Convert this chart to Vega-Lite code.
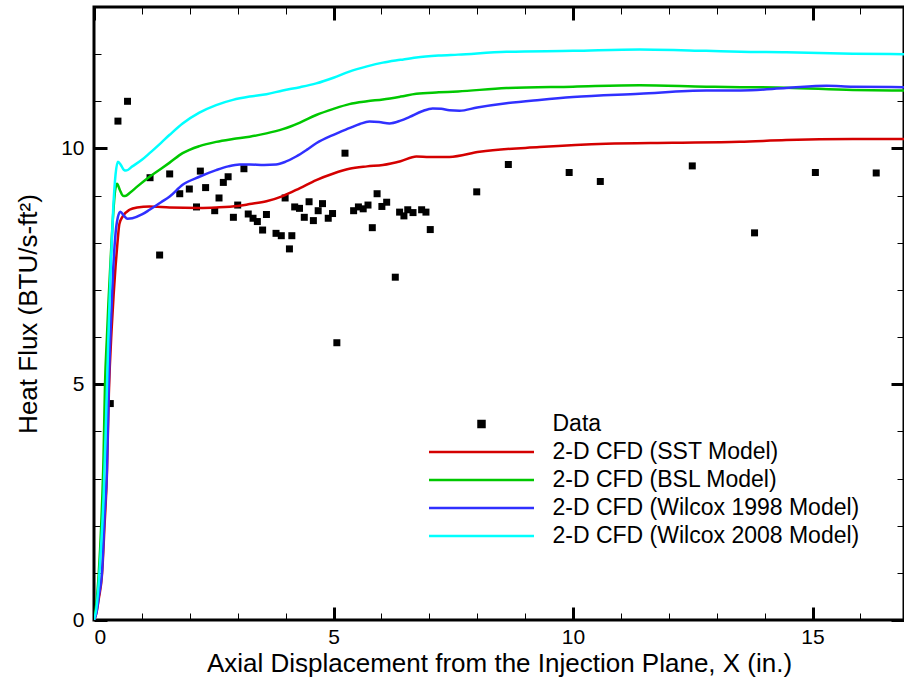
{
  "$schema": "https://vega.github.io/schema/vega-lite/v6.json",
  "width": 810,
  "height": 613,
  "autosize": {"type": "none"},
  "padding": {"left": 94, "top": 7, "right": 0, "bottom": 61},
  "background": "white",
  "config": {
    "view": {"stroke": "black", "strokeWidth": 3},
    "axis": {"labelFont": "Liberation Sans", "titleFont": "Liberation Sans", "labelColor": "black", "titleColor": "black", "tickColor": "black", "grid": false, "domain": false, "titleFontWeight": "normal", "labelFontSize": 21, "titleFontSize": 26},
    "legend": {"title": null, "orient": "none", "legendX": 333.5, "legendY": 403, "padding": 0, "clipHeight": 28, "rowPadding": 0,
      "labelFont": "Liberation Sans", "labelFontSize": 23, "labelColor": "black", "labelOffset": 17, "labelLimit": 0,
      "symbolSize": 11025, "symbolStrokeWidth": 2.5, "symbolType": "stroke"}
  },
  "data": {"values": [
    {"s":"Data","x":0.34,"y":4.59},{"s":"Data","x":0.50,"y":10.58},{"s":"Data","x":0.70,"y":11.00},{"s":"Data","x":1.17,"y":9.38},
    {"s":"Data","x":1.37,"y":7.74},{"s":"Data","x":1.58,"y":9.46},{"s":"Data","x":1.79,"y":9.04},{"s":"Data","x":1.99,"y":9.14},
    {"s":"Data","x":2.14,"y":8.76},{"s":"Data","x":2.22,"y":9.52},{"s":"Data","x":2.33,"y":9.17},{"s":"Data","x":2.52,"y":8.68},
    {"s":"Data","x":2.61,"y":8.95},{"s":"Data","x":2.70,"y":9.28},{"s":"Data","x":2.80,"y":9.40},{"s":"Data","x":2.91,"y":8.54},
    {"s":"Data","x":3.00,"y":8.80},{"s":"Data","x":3.13,"y":9.57},{"s":"Data","x":3.22,"y":8.61},{"s":"Data","x":3.32,"y":8.52},
    {"s":"Data","x":3.41,"y":8.45},{"s":"Data","x":3.52,"y":8.27},{"s":"Data","x":3.60,"y":8.60},{"s":"Data","x":3.80,"y":8.20},
    {"s":"Data","x":3.91,"y":8.15},{"s":"Data","x":3.99,"y":8.95},{"s":"Data","x":4.08,"y":7.87},{"s":"Data","x":4.13,"y":8.15},
    {"s":"Data","x":4.19,"y":8.76},{"s":"Data","x":4.29,"y":8.73},{"s":"Data","x":4.39,"y":8.54},{"s":"Data","x":4.49,"y":8.87},
    {"s":"Data","x":4.58,"y":8.47},{"s":"Data","x":4.68,"y":8.68},{"s":"Data","x":4.77,"y":8.83},{"s":"Data","x":4.89,"y":8.52},
    {"s":"Data","x":4.98,"y":8.62},{"s":"Data","x":5.07,"y":5.88},{"s":"Data","x":5.24,"y":9.90},{"s":"Data","x":5.42,"y":8.68},
    {"s":"Data","x":5.52,"y":8.76},{"s":"Data","x":5.62,"y":8.72},{"s":"Data","x":5.72,"y":8.80},{"s":"Data","x":5.81,"y":8.32},
    {"s":"Data","x":5.91,"y":9.04},{"s":"Data","x":6.01,"y":8.77},{"s":"Data","x":6.11,"y":8.86},{"s":"Data","x":6.29,"y":7.27},
    {"s":"Data","x":6.38,"y":8.65},{"s":"Data","x":6.47,"y":8.57},{"s":"Data","x":6.55,"y":8.70},{"s":"Data","x":6.66,"y":8.64},
    {"s":"Data","x":6.84,"y":8.70},{"s":"Data","x":6.93,"y":8.65},{"s":"Data","x":7.02,"y":8.28},{"s":"Data","x":7.99,"y":9.08},
    {"s":"Data","x":8.65,"y":9.66},{"s":"Data","x":9.92,"y":9.49},{"s":"Data","x":10.57,"y":9.30},{"s":"Data","x":12.49,"y":9.63},
    {"s":"Data","x":13.79,"y":8.21},{"s":"Data","x":15.06,"y":9.49},{"s":"Data","x":16.33,"y":9.48},

    {"s":"2-D CFD (SST Model)","x":0,"y":0},{"s":"2-D CFD (SST Model)","x":0.05,"y":0.15},{"s":"2-D CFD (SST Model)","x":0.1,"y":0.45},
    {"s":"2-D CFD (SST Model)","x":0.17,"y":1.0},{"s":"2-D CFD (SST Model)","x":0.22,"y":2.0},{"s":"2-D CFD (SST Model)","x":0.27,"y":3.1},
    {"s":"2-D CFD (SST Model)","x":0.31,"y":4.8},{"s":"2-D CFD (SST Model)","x":0.37,"y":6.2},{"s":"2-D CFD (SST Model)","x":0.41,"y":6.9},
    {"s":"2-D CFD (SST Model)","x":0.45,"y":7.5},{"s":"2-D CFD (SST Model)","x":0.49,"y":8.0},{"s":"2-D CFD (SST Model)","x":0.53,"y":8.4},
    {"s":"2-D CFD (SST Model)","x":0.6,"y":8.56},{"s":"2-D CFD (SST Model)","x":0.74,"y":8.70},{"s":"2-D CFD (SST Model)","x":0.9,"y":8.75},
    {"s":"2-D CFD (SST Model)","x":1.16,"y":8.77},{"s":"2-D CFD (SST Model)","x":1.58,"y":8.75},{"s":"2-D CFD (SST Model)","x":2.2,"y":8.74},
    {"s":"2-D CFD (SST Model)","x":2.55,"y":8.75},{"s":"2-D CFD (SST Model)","x":3.0,"y":8.78},{"s":"2-D CFD (SST Model)","x":3.25,"y":8.82},
    {"s":"2-D CFD (SST Model)","x":3.6,"y":8.88},{"s":"2-D CFD (SST Model)","x":3.94,"y":8.99},{"s":"2-D CFD (SST Model)","x":4.3,"y":9.16},
    {"s":"2-D CFD (SST Model)","x":4.64,"y":9.33},{"s":"2-D CFD (SST Model)","x":5.0,"y":9.47},{"s":"2-D CFD (SST Model)","x":5.33,"y":9.57},
    {"s":"2-D CFD (SST Model)","x":5.7,"y":9.62},{"s":"2-D CFD (SST Model)","x":6.03,"y":9.65},{"s":"2-D CFD (SST Model)","x":6.4,"y":9.73},
    {"s":"2-D CFD (SST Model)","x":6.73,"y":9.83},{"s":"2-D CFD (SST Model)","x":7.0,"y":9.82},{"s":"2-D CFD (SST Model)","x":7.42,"y":9.82},
    {"s":"2-D CFD (SST Model)","x":8.05,"y":9.93},{"s":"2-D CFD (SST Model)","x":9.3,"y":10.03},{"s":"2-D CFD (SST Model)","x":10.69,"y":10.10},
    {"s":"2-D CFD (SST Model)","x":12.08,"y":10.12},{"s":"2-D CFD (SST Model)","x":13.48,"y":10.14},{"s":"2-D CFD (SST Model)","x":14.45,"y":10.18},
    {"s":"2-D CFD (SST Model)","x":15.84,"y":10.20},{"s":"2-D CFD (SST Model)","x":17,"y":10.20},

    {"s":"2-D CFD (BSL Model)","x":0,"y":0},{"s":"2-D CFD (BSL Model)","x":0.05,"y":0.35},{"s":"2-D CFD (BSL Model)","x":0.1,"y":1.0},
    {"s":"2-D CFD (BSL Model)","x":0.15,"y":2.0},{"s":"2-D CFD (BSL Model)","x":0.2,"y":3.5},{"s":"2-D CFD (BSL Model)","x":0.23,"y":5.0},
    {"s":"2-D CFD (BSL Model)","x":0.27,"y":6.0},{"s":"2-D CFD (BSL Model)","x":0.3,"y":6.7},{"s":"2-D CFD (BSL Model)","x":0.35,"y":7.7},
    {"s":"2-D CFD (BSL Model)","x":0.4,"y":8.6},{"s":"2-D CFD (BSL Model)","x":0.44,"y":9.1},{"s":"2-D CFD (BSL Model)","x":0.48,"y":9.25},
    {"s":"2-D CFD (BSL Model)","x":0.54,"y":9.12},{"s":"2-D CFD (BSL Model)","x":0.6,"y":9.0},{"s":"2-D CFD (BSL Model)","x":0.65,"y":8.99},
    {"s":"2-D CFD (BSL Model)","x":0.75,"y":9.06},{"s":"2-D CFD (BSL Model)","x":0.9,"y":9.19},{"s":"2-D CFD (BSL Model)","x":1.16,"y":9.40},
    {"s":"2-D CFD (BSL Model)","x":1.4,"y":9.57},{"s":"2-D CFD (BSL Model)","x":1.58,"y":9.70},{"s":"2-D CFD (BSL Model)","x":1.85,"y":9.90},
    {"s":"2-D CFD (BSL Model)","x":2.2,"y":10.05},{"s":"2-D CFD (BSL Model)","x":2.55,"y":10.14},{"s":"2-D CFD (BSL Model)","x":2.9,"y":10.20},
    {"s":"2-D CFD (BSL Model)","x":3.25,"y":10.25},{"s":"2-D CFD (BSL Model)","x":3.6,"y":10.32},{"s":"2-D CFD (BSL Model)","x":3.94,"y":10.41},
    {"s":"2-D CFD (BSL Model)","x":4.3,"y":10.55},{"s":"2-D CFD (BSL Model)","x":4.64,"y":10.71},{"s":"2-D CFD (BSL Model)","x":5.0,"y":10.84},
    {"s":"2-D CFD (BSL Model)","x":5.33,"y":10.94},{"s":"2-D CFD (BSL Model)","x":5.7,"y":11.00},{"s":"2-D CFD (BSL Model)","x":6.03,"y":11.04},
    {"s":"2-D CFD (BSL Model)","x":6.4,"y":11.10},{"s":"2-D CFD (BSL Model)","x":6.73,"y":11.16},{"s":"2-D CFD (BSL Model)","x":7.2,"y":11.19},
    {"s":"2-D CFD (BSL Model)","x":7.6,"y":11.21},{"s":"2-D CFD (BSL Model)","x":8.61,"y":11.28},{"s":"2-D CFD (BSL Model)","x":10,"y":11.31},
    {"s":"2-D CFD (BSL Model)","x":11.39,"y":11.34},{"s":"2-D CFD (BSL Model)","x":12.78,"y":11.31},{"s":"2-D CFD (BSL Model)","x":13.5,"y":11.30},
    {"s":"2-D CFD (BSL Model)","x":14.45,"y":11.29},{"s":"2-D CFD (BSL Model)","x":15.84,"y":11.24},{"s":"2-D CFD (BSL Model)","x":17,"y":11.23},

    {"s":"2-D CFD (Wilcox 1998 Model)","x":0,"y":0},{"s":"2-D CFD (Wilcox 1998 Model)","x":0.05,"y":0.15},{"s":"2-D CFD (Wilcox 1998 Model)","x":0.1,"y":0.5},
    {"s":"2-D CFD (Wilcox 1998 Model)","x":0.17,"y":1.06},{"s":"2-D CFD (Wilcox 1998 Model)","x":0.22,"y":2.2},{"s":"2-D CFD (Wilcox 1998 Model)","x":0.27,"y":3.18},
    {"s":"2-D CFD (Wilcox 1998 Model)","x":0.31,"y":5.03},{"s":"2-D CFD (Wilcox 1998 Model)","x":0.37,"y":6.72},{"s":"2-D CFD (Wilcox 1998 Model)","x":0.40,"y":7.42},
    {"s":"2-D CFD (Wilcox 1998 Model)","x":0.45,"y":8.2},{"s":"2-D CFD (Wilcox 1998 Model)","x":0.5,"y":8.55},{"s":"2-D CFD (Wilcox 1998 Model)","x":0.55,"y":8.66},
    {"s":"2-D CFD (Wilcox 1998 Model)","x":0.62,"y":8.58},{"s":"2-D CFD (Wilcox 1998 Model)","x":0.7,"y":8.51},{"s":"2-D CFD (Wilcox 1998 Model)","x":0.8,"y":8.52},
    {"s":"2-D CFD (Wilcox 1998 Model)","x":1.0,"y":8.6},{"s":"2-D CFD (Wilcox 1998 Model)","x":1.16,"y":8.70},{"s":"2-D CFD (Wilcox 1998 Model)","x":1.4,"y":8.86},
    {"s":"2-D CFD (Wilcox 1998 Model)","x":1.58,"y":8.98},{"s":"2-D CFD (Wilcox 1998 Model)","x":1.85,"y":9.23},{"s":"2-D CFD (Wilcox 1998 Model)","x":2.2,"y":9.40},
    {"s":"2-D CFD (Wilcox 1998 Model)","x":2.55,"y":9.54},{"s":"2-D CFD (Wilcox 1998 Model)","x":2.8,"y":9.62},{"s":"2-D CFD (Wilcox 1998 Model)","x":3.04,"y":9.66},
    {"s":"2-D CFD (Wilcox 1998 Model)","x":3.25,"y":9.66},{"s":"2-D CFD (Wilcox 1998 Model)","x":3.55,"y":9.65},{"s":"2-D CFD (Wilcox 1998 Model)","x":3.8,"y":9.66},
    {"s":"2-D CFD (Wilcox 1998 Model)","x":4.0,"y":9.72},{"s":"2-D CFD (Wilcox 1998 Model)","x":4.22,"y":9.83},{"s":"2-D CFD (Wilcox 1998 Model)","x":4.44,"y":9.97},
    {"s":"2-D CFD (Wilcox 1998 Model)","x":4.64,"y":10.11},{"s":"2-D CFD (Wilcox 1998 Model)","x":5.0,"y":10.29},{"s":"2-D CFD (Wilcox 1998 Model)","x":5.33,"y":10.43},
    {"s":"2-D CFD (Wilcox 1998 Model)","x":5.55,"y":10.52},{"s":"2-D CFD (Wilcox 1998 Model)","x":5.75,"y":10.57},{"s":"2-D CFD (Wilcox 1998 Model)","x":5.95,"y":10.56},
    {"s":"2-D CFD (Wilcox 1998 Model)","x":6.17,"y":10.53},{"s":"2-D CFD (Wilcox 1998 Model)","x":6.4,"y":10.59},{"s":"2-D CFD (Wilcox 1998 Model)","x":6.59,"y":10.67},
    {"s":"2-D CFD (Wilcox 1998 Model)","x":6.85,"y":10.79},{"s":"2-D CFD (Wilcox 1998 Model)","x":7.07,"y":10.85},{"s":"2-D CFD (Wilcox 1998 Model)","x":7.25,"y":10.84},
    {"s":"2-D CFD (Wilcox 1998 Model)","x":7.42,"y":10.81},{"s":"2-D CFD (Wilcox 1998 Model)","x":7.63,"y":10.80},{"s":"2-D CFD (Wilcox 1998 Model)","x":8.0,"y":10.87},
    {"s":"2-D CFD (Wilcox 1998 Model)","x":8.61,"y":10.96},{"s":"2-D CFD (Wilcox 1998 Model)","x":9.3,"y":11.03},{"s":"2-D CFD (Wilcox 1998 Model)","x":10,"y":11.09},
    {"s":"2-D CFD (Wilcox 1998 Model)","x":11.39,"y":11.16},{"s":"2-D CFD (Wilcox 1998 Model)","x":12.78,"y":11.23},{"s":"2-D CFD (Wilcox 1998 Model)","x":13.5,"y":11.23},
    {"s":"2-D CFD (Wilcox 1998 Model)","x":14.45,"y":11.28},{"s":"2-D CFD (Wilcox 1998 Model)","x":15.29,"y":11.33},{"s":"2-D CFD (Wilcox 1998 Model)","x":15.84,"y":11.31},
    {"s":"2-D CFD (Wilcox 1998 Model)","x":17,"y":11.30},

    {"s":"2-D CFD (Wilcox 2008 Model)","x":0,"y":0},{"s":"2-D CFD (Wilcox 2008 Model)","x":0.05,"y":0.25},{"s":"2-D CFD (Wilcox 2008 Model)","x":0.1,"y":0.8},
    {"s":"2-D CFD (Wilcox 2008 Model)","x":0.15,"y":1.6},{"s":"2-D CFD (Wilcox 2008 Model)","x":0.2,"y":2.6},{"s":"2-D CFD (Wilcox 2008 Model)","x":0.25,"y":4.2},
    {"s":"2-D CFD (Wilcox 2008 Model)","x":0.3,"y":6.0},{"s":"2-D CFD (Wilcox 2008 Model)","x":0.35,"y":7.5},{"s":"2-D CFD (Wilcox 2008 Model)","x":0.4,"y":8.7},
    {"s":"2-D CFD (Wilcox 2008 Model)","x":0.45,"y":9.45},{"s":"2-D CFD (Wilcox 2008 Model)","x":0.5,"y":9.72},{"s":"2-D CFD (Wilcox 2008 Model)","x":0.56,"y":9.65},
    {"s":"2-D CFD (Wilcox 2008 Model)","x":0.62,"y":9.55},{"s":"2-D CFD (Wilcox 2008 Model)","x":0.67,"y":9.53},{"s":"2-D CFD (Wilcox 2008 Model)","x":0.8,"y":9.62},
    {"s":"2-D CFD (Wilcox 2008 Model)","x":1.0,"y":9.76},{"s":"2-D CFD (Wilcox 2008 Model)","x":1.16,"y":9.90},{"s":"2-D CFD (Wilcox 2008 Model)","x":1.4,"y":10.12},
    {"s":"2-D CFD (Wilcox 2008 Model)","x":1.58,"y":10.29},{"s":"2-D CFD (Wilcox 2008 Model)","x":1.85,"y":10.53},{"s":"2-D CFD (Wilcox 2008 Model)","x":2.2,"y":10.76},
    {"s":"2-D CFD (Wilcox 2008 Model)","x":2.55,"y":10.92},{"s":"2-D CFD (Wilcox 2008 Model)","x":2.9,"y":11.03},{"s":"2-D CFD (Wilcox 2008 Model)","x":3.25,"y":11.10},
    {"s":"2-D CFD (Wilcox 2008 Model)","x":3.6,"y":11.15},{"s":"2-D CFD (Wilcox 2008 Model)","x":3.94,"y":11.23},{"s":"2-D CFD (Wilcox 2008 Model)","x":4.3,"y":11.30},
    {"s":"2-D CFD (Wilcox 2008 Model)","x":4.64,"y":11.38},{"s":"2-D CFD (Wilcox 2008 Model)","x":5.0,"y":11.50},{"s":"2-D CFD (Wilcox 2008 Model)","x":5.33,"y":11.63},
    {"s":"2-D CFD (Wilcox 2008 Model)","x":5.7,"y":11.74},{"s":"2-D CFD (Wilcox 2008 Model)","x":6.03,"y":11.82},{"s":"2-D CFD (Wilcox 2008 Model)","x":6.4,"y":11.88},
    {"s":"2-D CFD (Wilcox 2008 Model)","x":6.73,"y":11.93},{"s":"2-D CFD (Wilcox 2008 Model)","x":7.2,"y":11.97},{"s":"2-D CFD (Wilcox 2008 Model)","x":7.6,"y":11.99},
    {"s":"2-D CFD (Wilcox 2008 Model)","x":8.61,"y":12.05},{"s":"2-D CFD (Wilcox 2008 Model)","x":10,"y":12.07},{"s":"2-D CFD (Wilcox 2008 Model)","x":11.39,"y":12.10},
    {"s":"2-D CFD (Wilcox 2008 Model)","x":12.78,"y":12.07},{"s":"2-D CFD (Wilcox 2008 Model)","x":13.5,"y":12.05},{"s":"2-D CFD (Wilcox 2008 Model)","x":14.45,"y":12.04},
    {"s":"2-D CFD (Wilcox 2008 Model)","x":15.84,"y":12.01},{"s":"2-D CFD (Wilcox 2008 Model)","x":17,"y":12.00}
  ]},
  "resolve": {"axis": {"x": "independent", "y": "independent"}},
  "layer": [
    {
      "transform": [{"filter": "datum.s === 'Data'"}],
      "mark": {"type": "point", "shape": "square", "filled": true, "size": 49, "opacity": 1, "clip": true},
      "encoding": {
        "x": {"field": "x", "type": "quantitative", "scale": {"domain": [0, 16.91], "nice": false, "zero": false},
              "axis": {"orient": "bottom", "values": [0, 5, 10, 15], "ticks": false, "labelPadding": 6, "title": "Axial Displacement from the Injection Plane, X (in.)", "titlePadding": 3}},
        "y": {"field": "y", "type": "quantitative", "scale": {"domain": [0, 13], "nice": false, "zero": false},
              "axis": {"orient": "left", "values": [0, 5, 10], "ticks": false, "labelPadding": 10, "title": "Heat Flux (BTU/s-ft²)", "titlePadding": 19}},
        "color": {"field": "s", "type": "nominal",
          "scale": {"domain": ["Data", "2-D CFD (SST Model)", "2-D CFD (BSL Model)", "2-D CFD (Wilcox 1998 Model)", "2-D CFD (Wilcox 2008 Model)"], "range": ["#000000", "#d40000", "#00c800", "#3030ff", "#00ffff"]},
          "legend": {"encode": {"symbols": {"update": {
              "shape": [{"test": "datum.value === 'Data'", "value": "M-0.0571,-0.0571H0.0571V0.0571H-0.0571Z"}, {"value": "stroke"}],
              "fill": [{"test": "datum.value === 'Data'", "value": "black"}, {"value": "transparent"}],
              "stroke": [{"test": "datum.value === 'Data'", "value": "transparent"}, {"scale": "color", "field": "value"}],
              "opacity": {"value": 1}
            }}}}
        }
      }
    },
    {
      "transform": [{"filter": "datum.s === '2-D CFD (SST Model)'"}],
      "mark": {"type": "line", "strokeWidth": 2.5, "clip": true, "interpolate": "monotone"},
      "encoding": {
        "x": {"field": "x", "type": "quantitative", "scale": {"domain": [0, 16.91], "nice": false, "zero": false},
              "axis": {"orient": "bottom", "values": [0, 5, 10, 15], "labels": false, "tickSize": -13, "tickWidth": 3, "title": null}},
        "y": {"field": "y", "type": "quantitative", "scale": {"domain": [0, 13], "nice": false, "zero": false},
              "axis": {"orient": "left", "values": [0, 5, 10], "labels": false, "tickSize": -13, "tickWidth": 3, "title": null}},
        "color": {"field": "s", "type": "nominal",
          "legend": {"encode": {"symbols": {"update": {
              "shape": [{"test": "datum.value === 'Data'", "value": "M-0.0571,-0.0571H0.0571V0.0571H-0.0571Z"}, {"value": "stroke"}],
              "fill": [{"test": "datum.value === 'Data'", "value": "black"}, {"value": "transparent"}],
              "stroke": [{"test": "datum.value === 'Data'", "value": "transparent"}, {"scale": "color", "field": "value"}],
              "opacity": {"value": 1}
            }}}}}
      }
    },
    {
      "transform": [{"filter": "datum.s === '2-D CFD (BSL Model)'"}],
      "mark": {"type": "line", "strokeWidth": 2.5, "clip": true, "interpolate": "monotone"},
      "encoding": {
        "x": {"field": "x", "type": "quantitative", "scale": {"domain": [0, 16.91], "nice": false, "zero": false},
              "axis": {"orient": "bottom", "values": [1, 2, 3, 4, 6, 7, 8, 9, 11, 12, 13, 14, 16], "labels": false, "tickSize": -7, "tickWidth": 1, "title": null}},
        "y": {"field": "y", "type": "quantitative", "scale": {"domain": [0, 13], "nice": false, "zero": false},
              "axis": {"orient": "left", "values": [1, 2, 3, 4, 6, 7, 8, 9, 11, 12], "labels": false, "tickSize": -7, "tickWidth": 1, "title": null}},
        "color": {"field": "s", "type": "nominal",
          "legend": {"encode": {"symbols": {"update": {
              "shape": [{"test": "datum.value === 'Data'", "value": "M-0.0571,-0.0571H0.0571V0.0571H-0.0571Z"}, {"value": "stroke"}],
              "fill": [{"test": "datum.value === 'Data'", "value": "black"}, {"value": "transparent"}],
              "stroke": [{"test": "datum.value === 'Data'", "value": "transparent"}, {"scale": "color", "field": "value"}],
              "opacity": {"value": 1}
            }}}}}
      }
    },
    {
      "transform": [{"filter": "datum.s === '2-D CFD (Wilcox 1998 Model)'"}],
      "mark": {"type": "line", "strokeWidth": 2.5, "clip": true, "interpolate": "monotone"},
      "encoding": {
        "x": {"field": "x", "type": "quantitative", "scale": {"domain": [0, 16.91], "nice": false, "zero": false},
              "axis": {"orient": "top", "values": [0, 5, 10, 15], "labels": false, "tickSize": -13, "tickWidth": 3, "title": null}},
        "y": {"field": "y", "type": "quantitative", "scale": {"domain": [0, 13], "nice": false, "zero": false},
              "axis": {"orient": "right", "values": [0, 5, 10], "labels": false, "tickSize": -13, "tickWidth": 3, "title": null}},
        "color": {"field": "s", "type": "nominal",
          "legend": {"encode": {"symbols": {"update": {
              "shape": [{"test": "datum.value === 'Data'", "value": "M-0.0571,-0.0571H0.0571V0.0571H-0.0571Z"}, {"value": "stroke"}],
              "fill": [{"test": "datum.value === 'Data'", "value": "black"}, {"value": "transparent"}],
              "stroke": [{"test": "datum.value === 'Data'", "value": "transparent"}, {"scale": "color", "field": "value"}],
              "opacity": {"value": 1}
            }}}}}
      }
    },
    {
      "transform": [{"filter": "datum.s === '2-D CFD (Wilcox 2008 Model)'"}],
      "mark": {"type": "line", "strokeWidth": 2.5, "clip": true, "interpolate": "monotone"},
      "encoding": {
        "x": {"field": "x", "type": "quantitative", "scale": {"domain": [0, 16.91], "nice": false, "zero": false},
              "axis": {"orient": "top", "values": [1, 2, 3, 4, 6, 7, 8, 9, 11, 12, 13, 14, 16], "labels": false, "tickSize": -7, "tickWidth": 1, "title": null}},
        "y": {"field": "y", "type": "quantitative", "scale": {"domain": [0, 13], "nice": false, "zero": false},
              "axis": {"orient": "right", "values": [1, 2, 3, 4, 6, 7, 8, 9, 11, 12], "labels": false, "tickSize": -7, "tickWidth": 1, "title": null}},
        "color": {"field": "s", "type": "nominal",
          "legend": {"encode": {"symbols": {"update": {
              "shape": [{"test": "datum.value === 'Data'", "value": "M-0.0571,-0.0571H0.0571V0.0571H-0.0571Z"}, {"value": "stroke"}],
              "fill": [{"test": "datum.value === 'Data'", "value": "black"}, {"value": "transparent"}],
              "stroke": [{"test": "datum.value === 'Data'", "value": "transparent"}, {"scale": "color", "field": "value"}],
              "opacity": {"value": 1}
            }}}}}
      }
    }
  ]
}
